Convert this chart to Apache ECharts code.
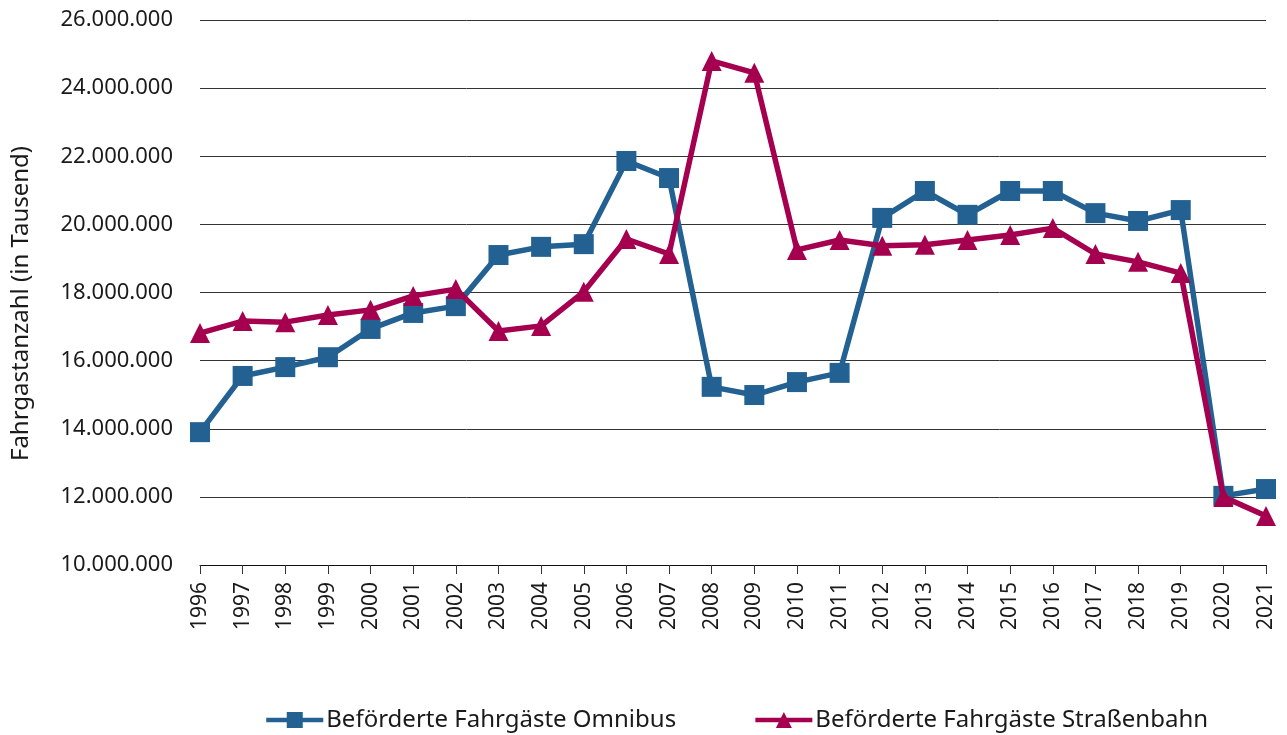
<!DOCTYPE html>
<html>
<head>
<meta charset="utf-8">
<script src="https://cdn.jsdelivr.net/npm/echarts@6/dist/echarts.min.js"></script>
<style>
  html, body { margin: 0; padding: 0; background: #fff; }
  #chart { width: 1287px; height: 735px; }
</style>
</head>
<body>
<div id="chart"></div>
<script>
const years = ['1996','1997','1998','1999','2000','2001','2002','2003','2004','2005','2006','2007','2008',
  '2009','2010','2011','2012','2013','2014','2015','2016','2017','2018','2019','2020','2021'];
const omnibus = [13900000, 15550000, 15810000, 16100000, 16930000, 17400000, 17600000, 19100000, 19340000,
  19420000, 21860000, 21360000, 15230000, 14990000, 15370000, 15640000, 20190000, 20980000, 20280000,
  20980000, 20980000, 20330000, 20100000, 20420000, 12030000, 12230000];
const strassenbahn = [16810000, 17160000, 17130000, 17340000, 17490000, 17900000, 18100000, 16870000, 17020000,
  18020000, 19570000, 19130000, 24800000, 24450000, 19250000, 19540000, 19370000, 19400000, 19540000,
  19690000, 19890000, 19130000, 18900000, 18570000, 12000000, 11440000];
const seriesNames = ['Beförderte Fahrgäste Omnibus', 'Beförderte Fahrgäste Straßenbahn'];

// Tausenderpunkte wie im Original
const fmt = v => String(v).replace(/\B(?=(\d{3})+(?!\d))/g, '.');

const chart = echarts.init(document.getElementById('chart'));
chart.setOption({
  animation: false,
  textStyle: { fontFamily: 'Noto Sans', color: '#1a1a1a' },
  grid: { left: 200, right: 21, top: 20, bottom: 170 },
  legend: {
    left: 259,
    top: 703,
    itemWidth: 57,
    itemHeight: 20,
    itemGap: 77,
    lineStyle: { width: 4.5 },
    textStyle: { fontSize: 24, color: '#1a1a1a', fontFamily: 'Noto Sans', padding: [0, 0, 0, -2] },
    data: seriesNames
  },
  xAxis: {
    type: 'category',
    data: years,
    boundaryGap: false,
    axisLine: { lineStyle: { color: '#111', width: 1.2 } },
    axisTick: { show: true, length: 9, lineStyle: { color: '#333' } },
    axisLabel: { rotate: 90, fontSize: 21, color: '#1a1a1a', margin: 17, interval: 0 }
  },
  yAxis: {
    type: 'value',
    min: 10000000,
    max: 26000000,
    interval: 2000000,
    name: 'Fahrgastanzahl (in Tausend)',
    nameLocation: 'middle',
    nameGap: 167,
    nameTextStyle: { fontSize: 24, color: '#1a1a1a', padding: [0, 22, 0, 0] },
    axisLine: { show: false },
    axisTick: { show: false },
    axisLabel: { fontSize: 22, color: '#1a1a1a', margin: 27, formatter: fmt },
    splitLine: { lineStyle: { color: '#333', width: 1 } }
  },
  series: [
    {
      name: seriesNames[0],
      type: 'line',
      data: omnibus,
      symbol: 'rect',
      symbolSize: 20,
      lineStyle: { color: '#236192', width: 5.5 },
      itemStyle: { color: '#236192' },
      z: 3
    },
    {
      name: seriesNames[1],
      type: 'line',
      data: strassenbahn,
      symbol: 'triangle',
      symbolSize: 20,
      lineStyle: { color: '#A5004F', width: 5.5 },
      itemStyle: { color: '#A5004F' },
      z: 4
    }
  ]
});
</script>
</body>
</html>
